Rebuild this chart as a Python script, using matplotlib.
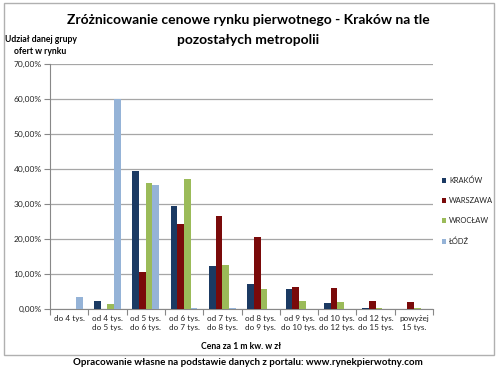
import matplotlib
matplotlib.use("Agg")
import matplotlib.pyplot as plt
from matplotlib.patches import Rectangle
from matplotlib.ticker import FuncFormatter, FixedLocator
import numpy as np

plt.rcParams['font.family'] = ['Lato', 'DejaVu Sans']

categories = ["do 4 tys.", "od 4 tys.\ndo 5 tys.", "od 5 tys.\ndo 6 tys.", "od 6 tys.\ndo 7 tys.",
              "od 7 tys.\ndo 8 tys.", "od 8 tys.\ndo 9 tys.", "od 9 tys.\ndo 10 tys.",
              "od 10 tys.\ndo 12 tys.", "od 12 tys.\ndo 15 tys.", "powyżej\n15 tys."]
series_names = ["KRAKÓW", "WARSZAWA", "WROCŁAW", "ŁÓDŹ"]
krakow   = [0.0, 2.3, 39.5, 29.4, 12.3, 7.1, 5.9, 1.9, 0.5, 0.2]
warszawa = [0.0, 0.0, 10.7, 24.4, 26.6, 20.7, 6.4, 6.0, 2.3, 2.0]
wroclaw  = [0.0, 1.5, 36.1, 37.2, 12.7, 5.9, 2.5, 2.1, 0.3, 0.3]
lodz     = [3.4, 60.0, 35.5, 0.5, 0.3, 0.0, 0.0, 0.0, 0.0, 0.0]
colors = ["#1B3A63", "#7A0A0A", "#9BBB59", "#95B3D7"]

W, H = 500, 373
fig = plt.figure(figsize=(5.0, 3.73), dpi=100)
fig.patch.set_facecolor("white")

ax = fig.add_axes([50 / W, 1 - 309.3 / H, (433 - 50) / W, (309.3 - 64.3) / H])

x = np.arange(len(categories))
bw = 0.175
all_series = [krakow, warszawa, wroclaw, lodz]
for i, (vals, name, col) in enumerate(zip(all_series, series_names, colors)):
    ax.bar(x + (i - 1.5) * bw, np.array(vals) / 100.0, width=bw, color=col, label=name,
           zorder=3, linewidth=0)

ax.set_xlim(-0.5, len(categories) - 0.5)
ax.set_ylim(0, 0.7)
ax.set_yticks(np.arange(0, 0.71, 0.1))
ax.yaxis.set_major_formatter(FuncFormatter(lambda v, p: ("%.2f%%" % (v * 100)).replace(".", ",")))
ax.yaxis.grid(True, color="#A6A6A6", linewidth=0.9, zorder=0)
ax.set_xticks(x)
ax.set_xticklabels(categories, fontsize=5.9, color="#222222", linespacing=1.3)
ax.xaxis.set_minor_locator(FixedLocator(np.arange(-0.5, len(categories), 1.0)))
ax.tick_params(axis="x", which="major", length=0, pad=4)
ax.tick_params(axis="x", which="minor", length=4, color="#888888", width=0.8)
ax.tick_params(axis="y", length=4, color="#888888", width=0.8, labelsize=6.0,
               labelcolor="#222222", pad=2)
for s in ["top", "right"]:
    ax.spines[s].set_visible(False)
for s in ["left", "bottom"]:
    ax.spines[s].set_color("#888888")
    ax.spines[s].set_linewidth(0.8)

fig.text(248 / W, 1 - 20 / H, "Zróżnicowanie cenowe rynku pierwotnego - Kraków na tle",
         ha="center", va="center", fontsize=10, fontweight="bold")
fig.text(248 / W, 1 - 40 / H, "pozostałych metropolii",
         ha="center", va="center", fontsize=10, fontweight="bold")
fig.text(40.5 / W, 1 - 40 / H, "Udział danej grupy", ha="center", va="center",
         fontsize=6.2, fontweight="bold")
fig.text(40.5 / W, 1 - 51 / H, "ofert w rynku", ha="center", va="center",
         fontsize=6.2, fontweight="bold")
fig.text(241 / W, 1 - 346.7 / H, "Cena za 1 m kw. w zł", ha="center", va="center",
         fontsize=6.2, fontweight="bold")
fig.text(248 / W, 1 - 362.7 / H,
         "Opracowanie własne na podstawie danych z portalu: www.rynekpierwotny.com",
         ha="center", va="center", fontsize=7, fontweight="bold")

fig.legend(loc="center left", bbox_to_anchor=(438 / W, 1 - 210.7 / H), frameon=False,
           fontsize=5.4, handlelength=0.6, handleheight=0.6, handletextpad=0.35,
           labelspacing=1.75, borderpad=0, labelcolor="#222222")

fig.add_artist(Rectangle((4 / W, 1 - 355 / H), 490 / W, 352 / H, transform=fig.transFigure,
                         fill=False, edgecolor="#B0B0B0", linewidth=1.0))

fig.savefig("out.png", dpi=100)
